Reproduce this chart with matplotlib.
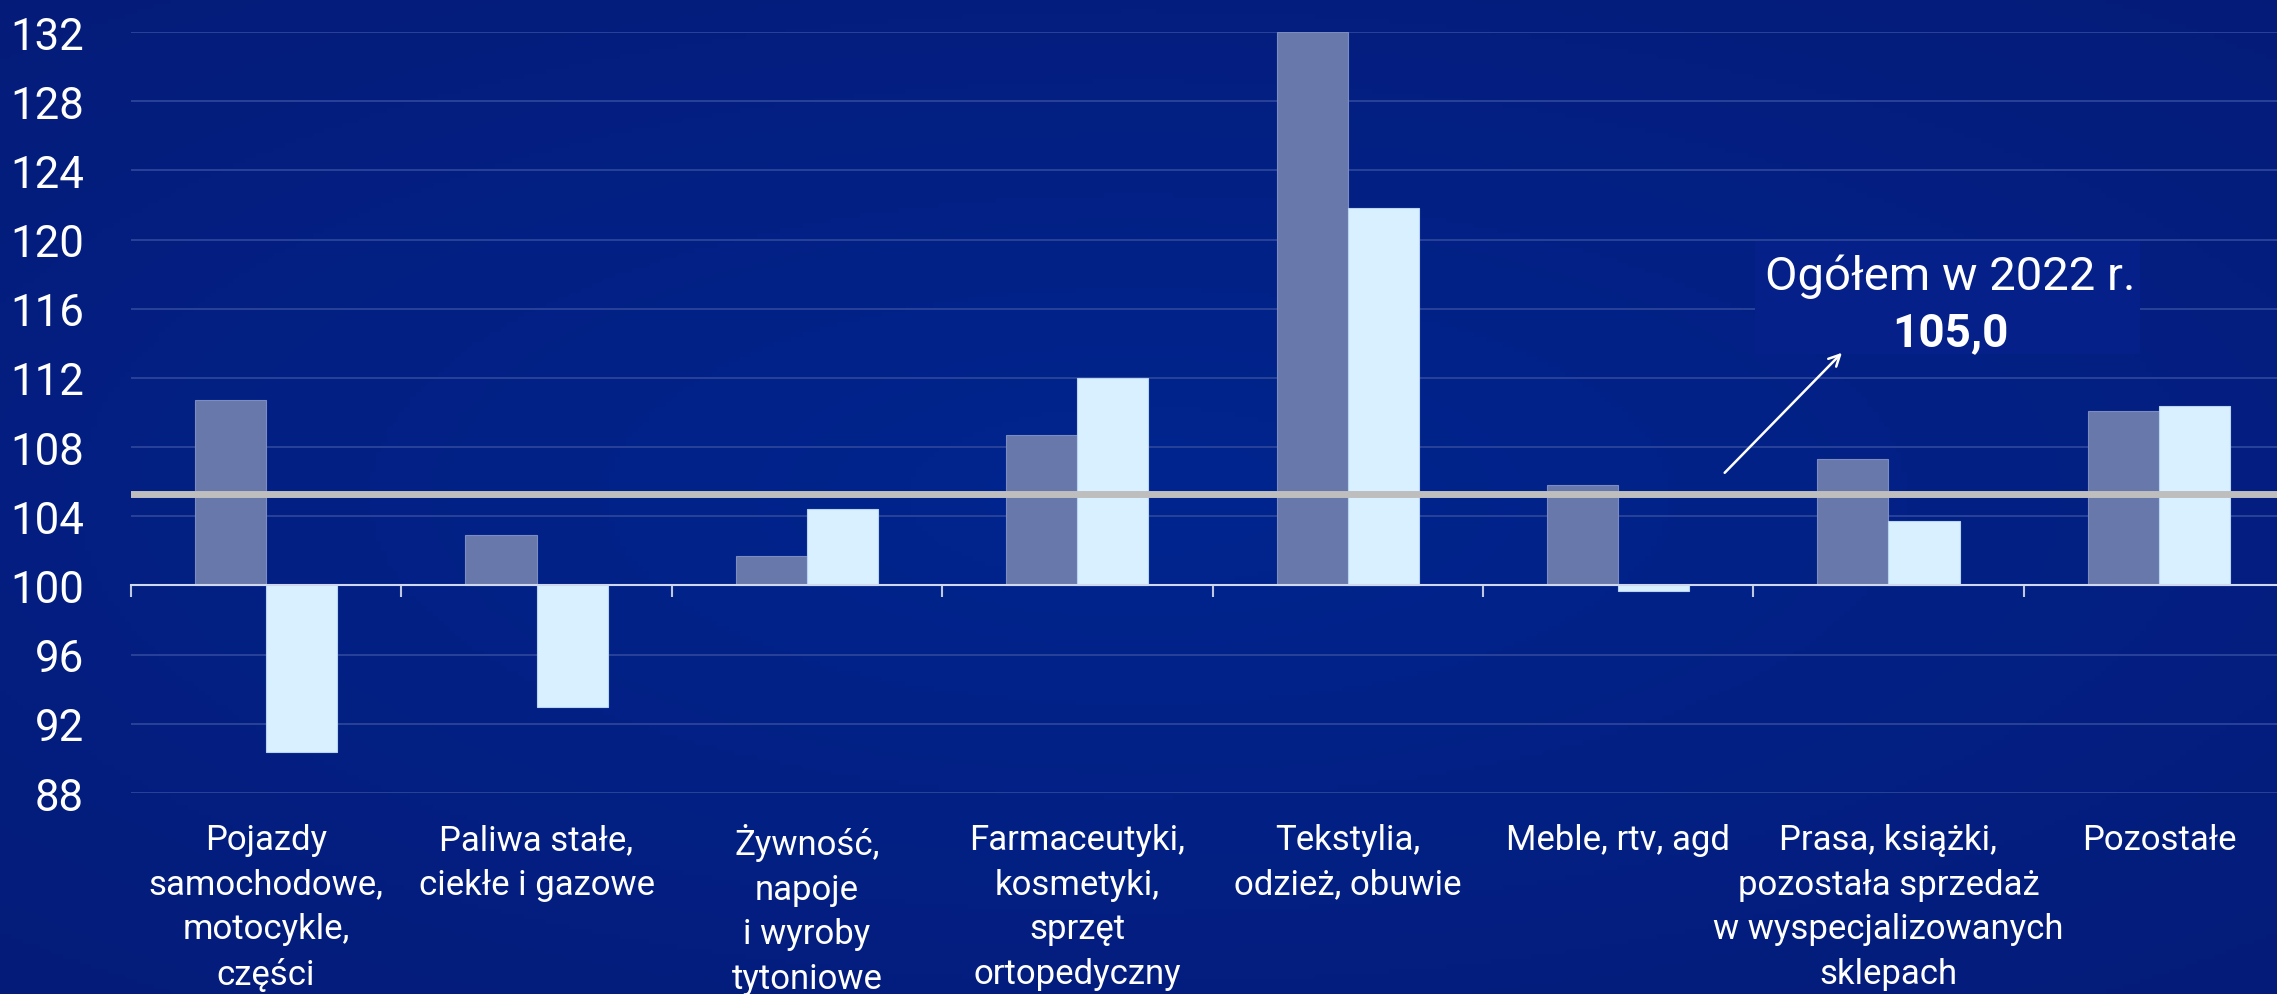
import numpy as np
import matplotlib
matplotlib.use("Agg")
import matplotlib.pyplot as plt
import matplotlib.transforms as mtransforms
from matplotlib import font_manager
from matplotlib.patches import Rectangle

# dane
categories = ["Pojazdy\nsamochodowe,\nmotocykle,\nczęści",
              "Paliwa stałe,\nciekłe i gazowe",
              "Żywność,\nnapoje\ni wyroby\ntytoniowe",
              "Farmaceutyki,\nkosmetyki,\nsprzęt\nortopedyczny",
              "Tekstylia,\nodzież, obuwie",
              "Meble, rtv, agd",
              "Prasa, książki,\npozostała sprzedaż\nw wyspecjalizowanych\nsklepach",
              "Pozostałe"]
series_a = [110.7, 102.9, 101.7, 108.7, 132.0, 105.8, 107.3, 110.1]
series_b = [90.4, 93.0, 104.4, 112.0, 121.8, 99.7, 103.7, 110.4]
y_ticks = [88, 92, 96, 100, 104, 108, 112, 116, 120, 124, 128, 132]
total_line = 105.3
total_label = "105,0"
total_title = "Ogółem w 2022 r."

BASE = 100
BG = "#00218a"
DARK_BAR = "#6878ab"
LIGHT_BAR = "#d8f0ff"


def pick_font():
    names = {f.name for f in font_manager.fontManager.ttflist}
    for name in ["Liberation Sans Narrow", "Roboto", "DejaVu Sans"]:
        if name in names:
            return name
    return "DejaVu Sans"


def draw_background(fig):
    bg = fig.add_axes([0, 0, 1, 1], zorder=-10)
    yy, xx = np.mgrid[-1:1:200j, -1:1:400j]
    r = np.sqrt((xx * 0.9) ** 2 + (yy * 1.0) ** 2)
    c_in = np.array([0x00, 0x25, 0x8f]) / 255
    c_out = np.array([0x05, 0x1b, 0x78]) / 255
    t = np.clip(r / 1.4, 0, 1)[..., None]
    img = c_in * (1 - t) + c_out * t
    bg.imshow(img, aspect="auto", extent=[0, 1, 0, 1])
    bg.axis("off")


def main():
    font = pick_font()
    plt.rcParams["font.family"] = [font, "DejaVu Sans"]

    fig = plt.figure(figsize=(22.77, 9.95), dpi=100)
    draw_background(fig)

    ax = fig.add_axes([0.0575, 0.202, 0.950, 0.7648])
    ax.patch.set_alpha(0)

    x = np.arange(len(categories))
    w = 0.263
    a = np.array(series_a) - BASE
    b = np.array(series_b) - BASE
    ax.bar(x - w / 2, a, w, bottom=BASE, color=DARK_BAR, edgecolor="#7d8cc0", linewidth=0.8, zorder=3)
    ax.bar(x + w / 2, b, w, bottom=BASE, color=LIGHT_BAR, edgecolor="#b8d4f0", linewidth=0.8, zorder=3)

    ax.axhline(total_line, color="#bebebe", linewidth=5, zorder=4)

    ax.set_xlim(-0.5, len(categories) - 0.5)
    ax.set_ylim(88, 132)
    ax.set_yticks(y_ticks)
    ax.yaxis.grid(True, color="#2a4299", linewidth=1.4, zorder=0)
    ax.set_axisbelow(True)
    ax.tick_params(axis="y", length=0, pad=34, labelsize=31.5, labelcolor="white")

    for s in ["top", "right", "left"]:
        ax.spines[s].set_visible(False)
    ax.spines["bottom"].set_position(("data", BASE))
    ax.spines["bottom"].set_color("#d0d8ee")
    ax.spines["bottom"].set_linewidth(1.5)
    ax.spines["bottom"].set_zorder(5)

    ax.set_xticks(np.arange(len(categories) + 1) - 0.5)
    ax.set_xticklabels([])
    ax.tick_params(axis="x", length=8.5, width=1.5, color="#c0c8e0", direction="out")

    # podpisy kategorii pod osia
    trans = mtransforms.blended_transform_factory(ax.transData, fig.transFigure)
    for i, lab in enumerate(categories):
        ax.text(i, 0.172, lab, transform=trans, ha="center", va="top",
                fontsize=25, color="white", linespacing=1.45, clip_on=False)

    # ramka z ogolem
    ax.add_patch(Rectangle((5.506, 113.4), 1.424, 6.5, facecolor="#06208a", edgecolor="none", zorder=2))
    ax.text(6.23, 117.9, total_title, ha="center", va="center", fontsize=34, color="white", zorder=6)
    ax.text(6.23, 114.67, total_label, ha="center", va="center", fontsize=33, fontweight="bold",
            color="white", zorder=6)
    ax.annotate("", xy=(5.835, 113.57), xytext=(5.387, 106.4),
                arrowprops=dict(arrowstyle="->,head_length=0.8,head_width=0.4", color="white", lw=1.8),
                zorder=6)

    fig.savefig("out.png", dpi=100, facecolor=BG)


if __name__ == "__main__":
    main()
